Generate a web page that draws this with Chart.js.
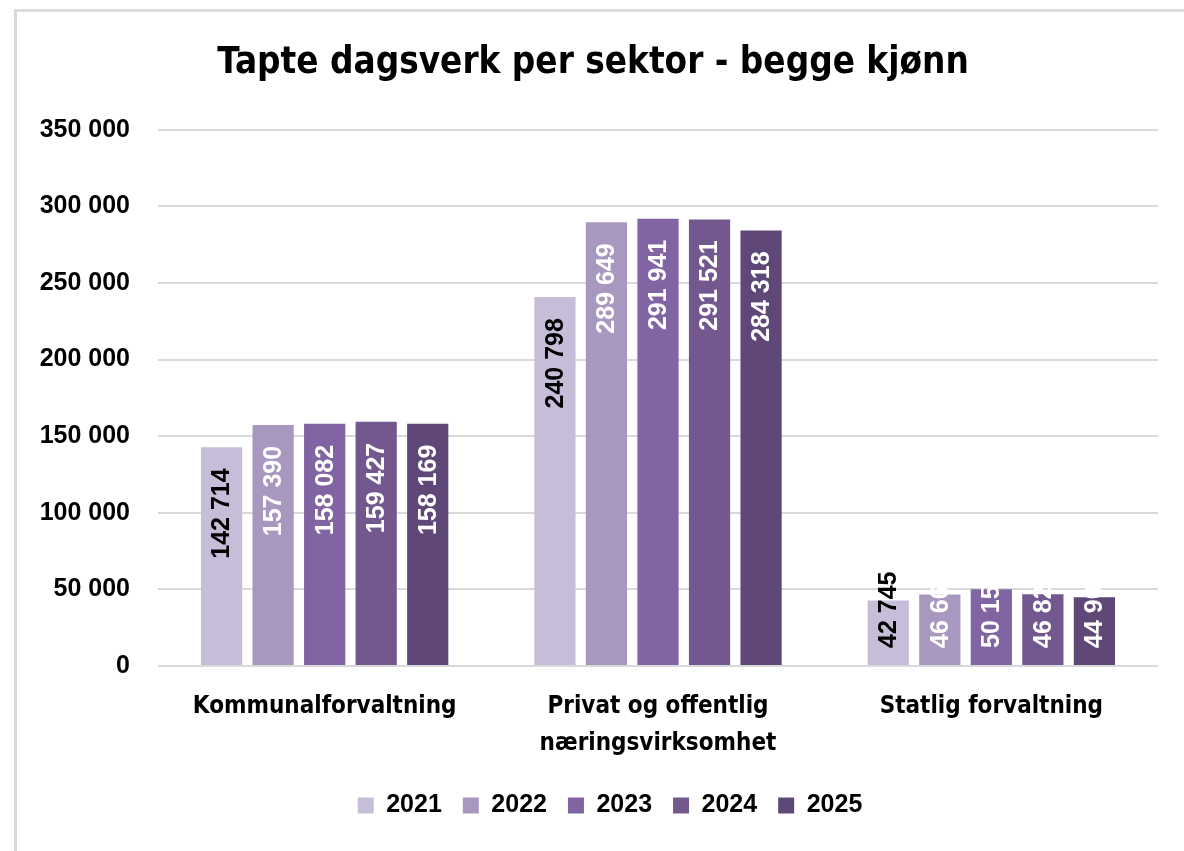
<!DOCTYPE html>
<html>
<head>
<meta charset="utf-8">
<script src="https://cdn.jsdelivr.net/npm/chart.js@4/dist/chart.umd.min.js"></script>
<style>
  html, body { margin:0; padding:0; background:#fff; }
  #wrap { position:absolute; left:0; top:0; width:1184px; height:851px; }
  #ramme {
    position:absolute; left:14px; top:9px; width:1200px; height:839px;
    border-left:3px solid #d9d9d9; border-top:3px solid #dcdcdc; border-bottom:3px solid #e0e0e0;
    pointer-events:none;
  }
</style>
</head>
<body>
<div id="wrap">
  <canvas id="graf" width="1184" height="851"></canvas>
  <div id="ramme"></div>
</div>
<script>

const sektorer = [
  "Kommunalforvaltning",
  ["Privat og offentlig", "næringsvirksomhet"],
  "Statlig forvaltning"
];

const aar = ["2021", "2022", "2023", "2024", "2025"];

const v2021 = [142714, 240798, 42745];
const v2022 = [157390, 289649, 46660];
const v2023 = [158082, 291941, 50150];
const v2024 = [159427, 291521, 46820];
const v2025 = [158169, 284318, 44900];

const farger = ["#c6bed8", "#a898c0", "#8165a2", "#72588f", "#5f4878"];
const etikettFarger = ["#000000", "#ffffff", "#ffffff", "#ffffff", "#ffffff"];

const yTicks = [0, 50000, 100000, 150000, 200000, 250000, 300000, 350000];

const smal = "'Liberation Sans Narrow', 'DejaVu Sans Condensed', 'Arial Narrow', sans-serif";
const vanlig = "'Liberation Sans', Arial, sans-serif";

function tall(n){
  // tusenskille med mellomrom
  return String(n).replace(/\B(?=(\d{3})+(?!\d))/g, " ");
}

// verdier skrevet loddrett inne i stolpene
const stolpeEtiketter = {
  id:'stolpeEtiketter',
  afterDatasetsDraw(chart){
    const ctx = chart.ctx;
    ctx.save();
    ctx.font = "bold 25px " + vanlig;
    ctx.textAlign = "left";
    ctx.textBaseline = "middle";
    chart.data.datasets.forEach((ds, i) => {
      const meta = chart.getDatasetMeta(i);
      meta.data.forEach((bar, j) => {
        const tekst = tall(ds.data[j]);
        const w = ctx.measureText(tekst).width;
        let start = bar.y + 21 + w;
        if(start > bar.base - 17){
          start = bar.base - 17;
        }
        ctx.save();
        ctx.translate(bar.x, start);
        ctx.rotate(-Math.PI / 2);
        ctx.fillStyle = etikettFarger[i];
        ctx.fillText(tekst, 0, 1);
        ctx.restore();
      });
    });
    ctx.restore();
  }
};

// tittel og forklaring står litt til høyre for midten
const flytt = {
  id:'flytt',
  afterLayout(chart){
    const skyv = (boks, dx) => {
      if(!boks) return;
      boks.left += dx;
      boks.right += dx;
    };
    skyv(chart.titleBlock, 14);
    skyv(chart.legend, 31);
  }
};

const serier = [v2021, v2022, v2023, v2024, v2025];

new Chart(document.getElementById("graf"), {
  type:'bar',
  data:{
    labels:sektorer,
    datasets: serier.map((d, i) => ({
      label:aar[i],
      data:d,
      backgroundColor:farger[i],
      borderWidth:0,
      categoryPercentage:0.773,
      barPercentage:0.8
    }))
  },
  options:{
    responsive:false,
    animation:false,
    layout:{
      padding:{ left:0, right:26, top:0, bottom:23 }
    },
    plugins:{
      title:{
        display:true,
        text:"Tapte dagsverk per sektor - begge kjønn",
        color:'#000',
        font:{ family:smal, size:36.5, weight:'bold' },
        padding:{ top:42, bottom:44 }
      },
      legend:{
        position:'bottom',
        labels:{
          color:'#000',
          boxWidth:16,
          boxHeight:16,
          padding:21,
          font:{ family:vanlig, size:25, weight:'bold' }
        }
      },
      tooltip:{ enabled:false }
    },
    scales:{
      x:{
        grid:{ display:false, drawTicks:false },
        border:{ display:false },
        ticks:{
          color:'#000',
          padding:22,
          maxRotation:0,
          font:{ family:smal, size:24, weight:'bold', lineHeight:1.55 }
        },
        afterFit(s){ s.height = 106; }
      },
      y:{
        min:0,
        max:350000,
        afterBuildTicks(s){ s.ticks = yTicks.map(v => ({ value:v })); },
        grid:{ color:'#d9d9d9', lineWidth:2, drawTicks:false },
        border:{ display:false },
        ticks:{
          color:'#000',
          padding:28,
          font:{ family:vanlig, size:25, weight:'bold' },
          callback:v => tall(v)
        },
        afterFit(s){ s.width = 158; }
      }
    }
  },
  plugins:[stolpeEtiketter, flytt]
});

</script>
</body>
</html>
